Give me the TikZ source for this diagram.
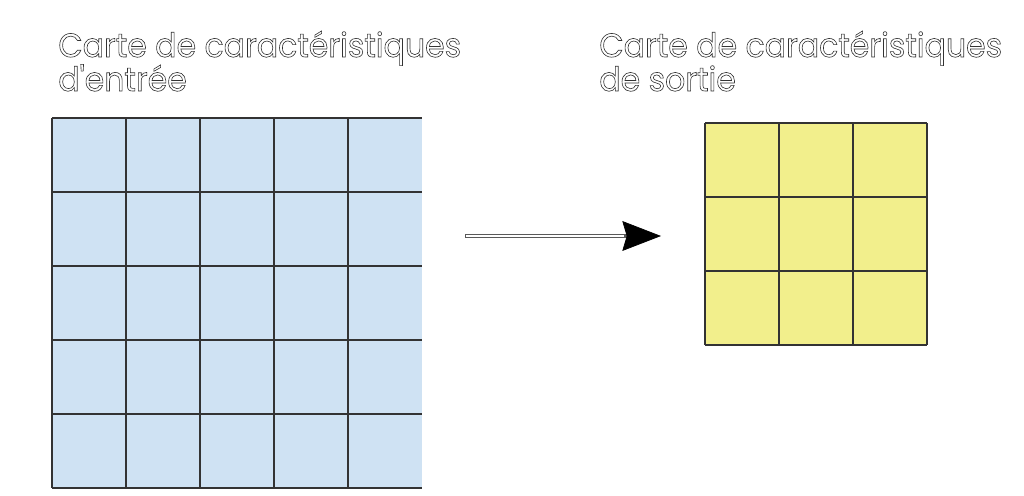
\documentclass[tikz,border=0pt]{standalone}
\usepackage{fontspec}
\newfontfamily\titlefont[FakeStretch=0.945]{Poppins}
\usetikzlibrary{arrows.meta}
\definecolor{mapblue}{HTML}{CFE2F3}
\definecolor{mapyellow}{HTML}{F2EF8C}
\definecolor{gridgray}{HTML}{333333}
\newcommand{\outlinetext}[1]{\special{pdf:code q 1 Tr 0.35 w}#1\special{pdf:code Q}}

\begin{document}
\begin{tikzpicture}[x=0.2mm,y=-0.2mm]
\tikzstyle{every node}=[font=\titlefont\fontsize{19}{23}\selectfont, text=black!80, inner sep=0pt, anchor=base west]
\tikzstyle{grid line}=[draw=gridgray, line width=1.1pt]
\tikzstyle{flow arrow}=[draw=black!65, line width=2.3pt, -{Stealth[length=22pt, width=17pt, inset=2.5pt, line width=0.4pt, fill=black, color=black]}]
\tikzstyle{flow inner}=[draw=white, line width=1.2pt, shorten >=21pt, shorten <=0.6pt]
\useasboundingbox (0,0) rectangle (1024,496);

% carte d'entree
\fill[mapblue] (52,118) rectangle (422,488);
\foreach \x in {52,126,200,274,348} \draw[grid line] (\x,118)--(\x,488);
\foreach \y in {118,192,266,340,414,488} \draw[grid line] (52,\y)--(422,\y);
\node (intitle) at (58,57) {\outlinetext{Carte de caractéristiques}};
\node (intitle2) at (58,91) {\outlinetext{d'entrée}};

% carte de sortie
\fill[mapyellow] (705,123) rectangle (927,345);
\foreach \x in {705,779,853,927} \draw[grid line] (\x,123)--(\x,345);
\foreach \y in {123,197,271,345} \draw[grid line] (705,\y)--(927,\y);
\node (outtitle) at (599,57) {\outlinetext{Carte de caractéristiques}};
\node (outtitle2) at (599,91) {\outlinetext{de sortie}};

\coordinate (arrowstart) at (465,236);
\coordinate (arrowend) at (661,236);
\draw[flow arrow] (arrowstart) -- (arrowend);
\draw[flow inner] (arrowstart) -- (arrowend);

\end{tikzpicture}
\end{document}
